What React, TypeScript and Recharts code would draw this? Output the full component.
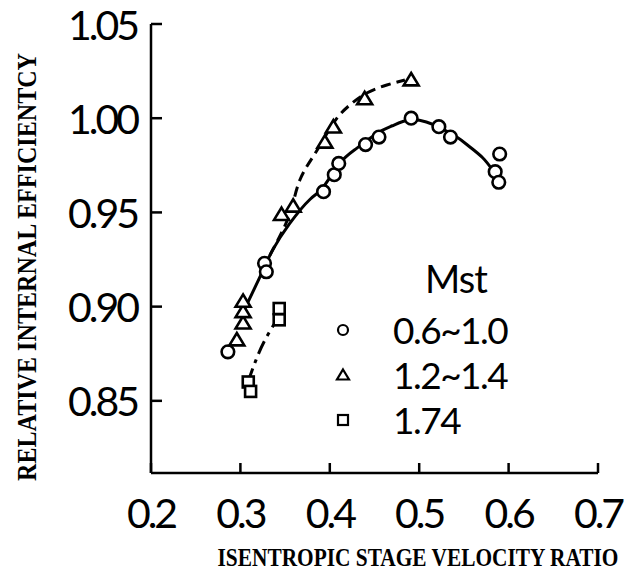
import React from "react";
import {
  ComposedChart,
  Line,
  Scatter,
  XAxis,
  YAxis,
} from "recharts";

// measured points, Mst 0.6~1.0
const circleX = [0.286, 0.327, 0.329, 0.393, 0.405, 0.41, 0.44, 0.455, 0.491, 0.522, 0.535, 0.585, 0.589, 0.59];
const circleY = [0.876, 0.923, 0.9185, 0.961, 0.97, 0.976, 0.986, 0.99, 1.0, 0.9955, 0.99, 0.9716, 0.966, 0.981];

// Mst 1.2~1.4
const triangleX = [0.296, 0.303, 0.303, 0.303, 0.346, 0.359, 0.3945, 0.404, 0.439, 0.491];
const triangleY = [0.882, 0.891, 0.897, 0.9025, 0.9486, 0.953, 0.987, 0.995, 1.01, 1.02];

// Mst 1.74
const squareX = [0.3434, 0.3434, 0.3088, 0.3114];
const squareY = [0.899, 0.893, 0.86, 0.855];

// hand-drawn fit curves
const solidCurveX = [0.305, 0.325, 0.336, 0.355, 0.378, 0.392, 0.411, 0.43, 0.453, 0.47, 0.489, 0.508, 0.523, 0.542, 0.556, 0.571, 0.582];
const solidCurveY = [0.899, 0.919, 0.93, 0.944, 0.957, 0.963, 0.976, 0.984, 0.992, 0.996, 0.999, 0.998, 0.995, 0.99, 0.985, 0.979, 0.9725];

const dashCurveX = [0.333, 0.3475, 0.3576, 0.3665, 0.381, 0.3945, 0.408, 0.4224, 0.4414, 0.4638, 0.484];
const dashCurveY = [0.9273, 0.9406, 0.9528, 0.9672, 0.9794, 0.99, 1.0, 1.007, 1.0134, 1.0176, 1.0203];

const dotDashCurveX = [0.3084, 0.3174, 0.3274, 0.342];
const dotDashCurveY = [0.86, 0.8716, 0.8822, 0.894];

const xTicks = [0.2, 0.3, 0.4, 0.5, 0.6, 0.7];
const yTicks = [0.85, 0.9, 0.95, 1.0, 1.05];
const legendNames = ["0.6~1.0", "1.2~1.4", "1.74"];

const zip = (xs: number[], ys: number[]) => xs.map((x, i) => ({ x, y: ys[i] }));

const NUM_FONT = "Lato, 'DejaVu Sans', sans-serif";
const TITLE_FONT = "'Liberation Serif', 'DejaVu Serif', serif";

const CircleMark = (p: any) => (
  <circle cx={p.cx} cy={p.cy} r={6.3} fill="#fff" stroke="#000" strokeWidth={2.6} />
);

const TriangleMark = (p: any) => {
  const s = 7.5;
  const { cx, cy } = p;
  return (
    <polygon
      points={`${cx},${cy - s} ${cx + s},${cy + s * 0.65} ${cx - s},${cy + s * 0.65}`}
      fill="#fff"
      stroke="#000"
      strokeWidth={2.6}
      strokeLinejoin="miter"
    />
  );
};

const SquareMark = (p: any) => (
  <rect x={p.cx - 5.5} y={p.cy - 5.5} width={11} height={11} fill="#fff" stroke="#000" strokeWidth={2.6} />
);

const YTick = (p: any) => {
  const { x, y, payload } = p;
  return (
    <g>
      <line x1={x} y1={y} x2={x + 11} y2={y} stroke="#000" strokeWidth={2.5} />
      <text
        x={x - 14}
        y={y}
        textAnchor="end"
        dominantBaseline="central"
        fontFamily={NUM_FONT}
        fontSize={41}
        letterSpacing={-3}
        fill="#000"
      >
        {payload.value.toFixed(2)}
      </text>
    </g>
  );
};

const XTick = (p: any) => {
  const { x, y, payload } = p;
  return (
    <g>
      <line x1={x} y1={y} x2={x} y2={y - 10} stroke="#000" strokeWidth={2.5} />
      <text
        x={x}
        y={y + 39}
        textAnchor="middle"
        dominantBaseline="central"
        fontFamily={NUM_FONT}
        fontSize={41}
        letterSpacing={-3}
        fill="#000"
      >
        {payload.value.toFixed(1)}
      </text>
    </g>
  );
};

const LegendIcon = ({ i }: { i: number }) => (
  <svg width={16} height={16} style={{ display: "block" }}>
    {i === 0 && <circle cx={8} cy={8} r={5} fill="#fff" stroke="#000" strokeWidth={2.2} />}
    {i === 1 && <polygon points="8,2.5 14,12.5 2,12.5" fill="#fff" stroke="#000" strokeWidth={2.2} />}
    {i === 2 && <rect x={3} y={3} width={10} height={10} fill="#fff" stroke="#000" strokeWidth={2.2} />}
  </svg>
);

export default function App() {
  return (
    <div style={{ position: "absolute", left: 0, top: 0, width: 629, height: 573, background: "#fff" }}>
      <ComposedChart
        width={629}
        height={573}
        margin={{ top: 24, right: 31, bottom: 0, left: 0 }}
      >
        <XAxis
          type="number"
          dataKey="x"
          domain={[0.2, 0.7]}
          ticks={xTicks}
          allowDataOverflow
          height={100}
          tickSize={0}
          tickMargin={0}
          axisLine={{ stroke: "#000", strokeWidth: 2.5 }}
          tickLine={false}
          tick={<XTick />}
          interval={0}
        />
        <YAxis
          type="number"
          dataKey="y"
          domain={[0.8117, 1.05]}
          ticks={yTicks}
          allowDataOverflow
          width={151}
          tickSize={0}
          tickMargin={0}
          axisLine={{ stroke: "#000", strokeWidth: 2.5 }}
          tickLine={false}
          tick={<YTick />}
          interval={0}
        />
        <Line
          data={zip(solidCurveX, solidCurveY)}
          dataKey="y"
          type="natural"
          stroke="#000"
          strokeWidth={3}
          dot={false}
          activeDot={false}
          isAnimationActive={false}
        />
        <Line
          data={zip(dashCurveX, dashCurveY)}
          dataKey="y"
          type="natural"
          stroke="#000"
          strokeWidth={3}
          strokeDasharray="10 6"
          dot={false}
          activeDot={false}
          isAnimationActive={false}
        />
        <Line
          data={zip(dotDashCurveX, dotDashCurveY)}
          dataKey="y"
          type="natural"
          stroke="#000"
          strokeWidth={3}
          strokeDasharray="14 6 4 6"
          dot={false}
          activeDot={false}
          isAnimationActive={false}
        />
        <Scatter data={zip(circleX, circleY)} dataKey="y" shape={CircleMark} isAnimationActive={false} />
        <Scatter data={zip(triangleX, triangleY)} dataKey="y" shape={TriangleMark} isAnimationActive={false} />
        <Scatter data={zip(squareX, squareY)} dataKey="y" shape={SquareMark} isAnimationActive={false} />
      </ComposedChart>

      {/* axis titles, condensed serif */}
      <svg width={629} height={573} style={{ position: "absolute", left: 0, top: 0, pointerEvents: "none" }}>
        <g transform="translate(26, 267) rotate(-90) scale(0.8, 1)">
          <text
            x={0}
            y={0}
            textAnchor="middle"
            dominantBaseline="central"
            fontFamily={TITLE_FONT}
            fontWeight="bold"
            fontSize={28}
            textLength={535}
            lengthAdjust="spacingAndGlyphs"
            fill="#000"
          >
            RELATIVE INTERNAL EFFICIENTCY
          </text>
        </g>
        <g transform="translate(418, 558) scale(0.748, 1)">
          <text
            x={0}
            y={0}
            textAnchor="middle"
            dominantBaseline="central"
            fontFamily={TITLE_FONT}
            fontWeight="bold"
            fontSize={26}
            textLength={536}
            lengthAdjust="spacingAndGlyphs"
            fill="#000"
          >
            ISENTROPIC STAGE VELOCITY RATIO
          </text>
        </g>
      </svg>

      {/* legend */}
      <div style={{ position: "absolute", left: 330, top: 256, fontFamily: NUM_FONT, color: "#000" }}>
        <div style={{ fontSize: 38, lineHeight: "45px", marginLeft: 95, letterSpacing: -1 }}>Mst</div>
        <div style={{ marginTop: 6 }}>
          {legendNames.map((name, i) => (
            <div key={name} style={{ display: "flex", alignItems: "center", height: 45 }}>
              <div style={{ width: 58, paddingLeft: 5 }}>
                <LegendIcon i={i} />
              </div>
              <span style={{ fontSize: 37, letterSpacing: -1.5 }}>{name}</span>
            </div>
          ))}
        </div>
      </div>
    </div>
  );
}
